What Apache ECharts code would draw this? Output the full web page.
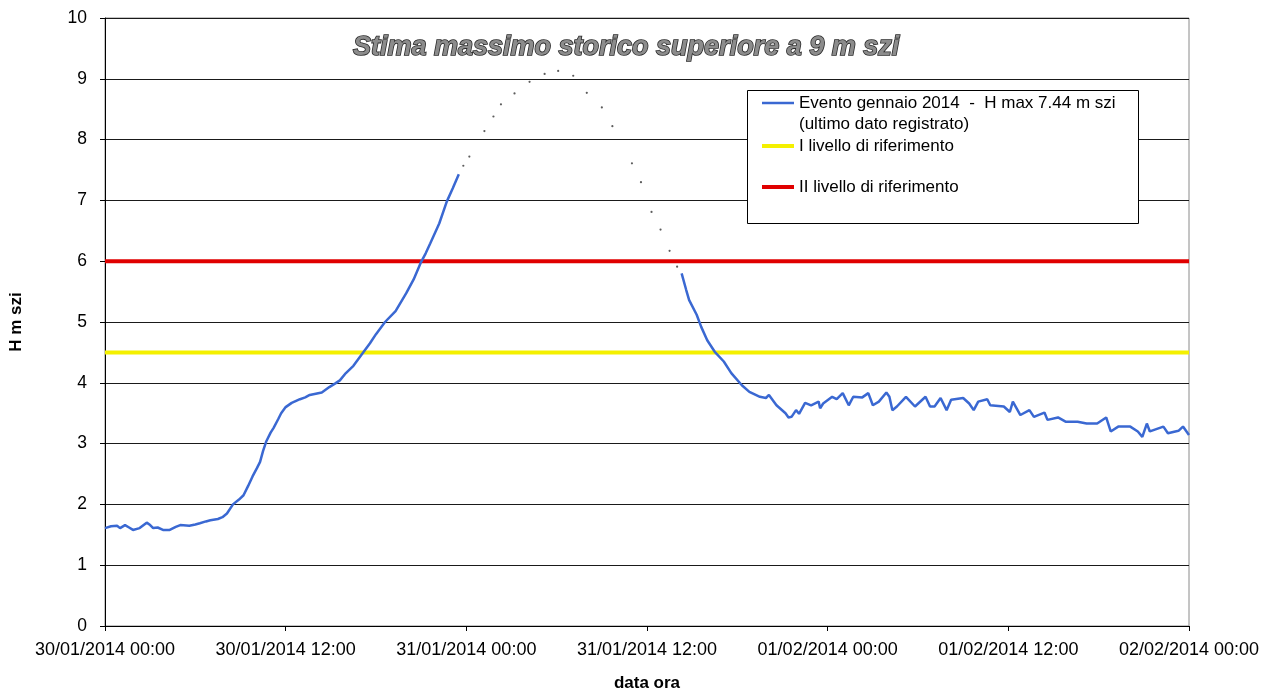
<!DOCTYPE html>
<html>
<head>
<meta charset="utf-8">
<script src="https://cdn.jsdelivr.net/npm/echarts@6/dist/echarts.min.js"></script>
<style>
html,body{margin:0;padding:0;background:#fff;}
#chart{width:1267px;height:691px;}
</style>
</head>
<body>
<div id="chart"></div>
<script>
// ---- data (hours since 30/01/2014 00:00, level in m szi) ----
const xTickLabels = ["30/01/2014 00:00","30/01/2014 12:00","31/01/2014 00:00","31/01/2014 12:00","01/02/2014 00:00","01/02/2014 12:00","02/02/2014 00:00"];
const yTickLabels = ["0","1","2","3","4","5","6","7","8","9","10"];

const seriesNames = [
  "Evento gennaio 2014  -  H max 7.44 m szi\n(ultimo dato registrato)",
  "I livello di riferimento",
  "II livello di riferimento"
];
const titleText = "Stima massimo storico superiore a 9 m szi";

// observed event (null = gap in record)
const eventHours = [
  0,0.4,0.8,1.0,1.33,1.6,1.86,2.3,2.77,3.0,3.2,3.5,3.85,4.3,4.7,5.0,5.6,6.0,6.3,6.7,7.0,7.5,7.8,8.1,8.5,8.9,9.2,9.5,9.8,10.1,10.3,10.5,10.7,11.0,11.2,11.5,11.7,12.0,12.4,12.95,13.3,13.6,14.0,14.4,14.9,15.3,15.6,16.0,16.5,17.0,17.6,18.0,18.6,19.3,20.0,20.5,21.0,21.3,21.6,22.2,22.7,23.1,23.5,
  30.0,
  38.3,38.6,38.8,39.3,39.6,40.0,40.5,41.1,41.6,42.3,42.8,43.5,43.9,44.1,44.6,45.2,45.4,45.6,45.9,46.1,46.5,46.9,47.4,47.5,47.7,48.3,48.6,49.0,49.4,49.7,50.3,50.7,51.0,51.4,51.9,52.1,52.3,52.6,53.2,53.8,54.5,54.8,55.1,55.5,55.9,56.2,57.0,57.4,57.7,58.0,58.6,58.8,59.7,60.1,60.3,60.8,61.4,61.7,62.4,62.6,63.3,63.8,64.6,65.2,65.9,66.5,66.8,67.3,68.1,68.6,68.9,69.2,69.4,70.3,70.6,71.3,71.6,72.0
];
const eventLevels = [
  1.61,1.64,1.65,1.61,1.66,1.62,1.58,1.61,1.70,1.66,1.61,1.62,1.58,1.58,1.63,1.66,1.65,1.67,1.69,1.72,1.74,1.76,1.79,1.85,2.00,2.08,2.15,2.30,2.46,2.60,2.70,2.88,3.03,3.18,3.26,3.40,3.50,3.60,3.67,3.73,3.76,3.80,3.82,3.84,3.93,3.99,4.04,4.16,4.28,4.45,4.65,4.80,5.00,5.18,5.47,5.70,5.99,6.13,6.29,6.62,6.98,7.20,7.43,
  null,
  5.80,5.53,5.36,5.12,4.92,4.70,4.51,4.35,4.16,3.96,3.85,3.77,3.75,3.80,3.63,3.50,3.43,3.44,3.55,3.49,3.67,3.63,3.69,3.58,3.66,3.77,3.73,3.83,3.63,3.77,3.76,3.83,3.63,3.69,3.84,3.77,3.55,3.61,3.77,3.61,3.77,3.61,3.61,3.75,3.55,3.72,3.75,3.66,3.55,3.69,3.73,3.63,3.61,3.52,3.69,3.47,3.55,3.44,3.51,3.39,3.43,3.36,3.36,3.33,3.33,3.43,3.20,3.28,3.28,3.20,3.11,3.33,3.20,3.28,3.17,3.21,3.28,3.14
];

// estimated peak (dotted)
const estimateHours  = [23.8,24.2,25.2,25.8,26.3,27.2,28.2,29.2,30.1,31.1,32.0,33.0,33.7,35.0,35.6,36.3,36.9,37.5,38.0];
const estimateLevels = [7.57,7.72,8.14,8.38,8.58,8.76,8.95,9.08,9.13,9.05,8.77,8.53,8.22,7.61,7.30,6.81,6.52,6.17,5.91];

// reference levels
const levelSpanHours = [0, 72];
const level1 = [4.5, 4.5];
const level2 = [6.0, 6.0];

const FONT = '"Liberation Sans", Arial, sans-serif';

function pairs(xs, ys){ return xs.map((x,i)=>[x, ys[i]]); }

const chart = echarts.init(document.getElementById('chart'), null, {renderer:'canvas'});
const legendCommon = {
  orient:'vertical', padding:0, icon:'rect', itemWidth:32,
  selectedMode:false,
  textStyle:{fontFamily:FONT, fontSize:17, color:'#000', lineHeight:21}
};
chart.setOption({
  animation:false,
  backgroundColor:'#fff',
  title:{
    text:titleText, left:348, top:29,
    textStyle:{fontFamily:FONT, fontSize:27, fontWeight:'bold', fontStyle:'italic',
      color:'#8c8c8c', textBorderColor:'#2a2a2a', textBorderWidth:1.6}
  },
  grid:{left:105, right:78, top:18, bottom:65, containLabel:false, outerBoundsMode:'none',
    show:true, borderColor:'#8a8a8a', borderWidth:1, backgroundColor:'transparent'},
  graphic:[{
    type:'rect', shape:{x:747.5, y:90.5, width:391, height:133},
    style:{fill:'#fff', stroke:'#000', lineWidth:1}, z:5
  }],
  legend:[
    Object.assign({}, legendCommon, {
      data:[seriesNames[0]], left:762, top:71.5, itemHeight:2.5, z:10,
      formatter:(name)=>'\n' + name
    }),
    Object.assign({}, legendCommon, {data:[seriesNames[1]], left:762, top:135.5, itemHeight:4, z:10}),
    Object.assign({}, legendCommon, {data:[seriesNames[2]], left:762, top:176.5, itemHeight:4, z:10})
  ],
  xAxis:{
    type:'value', min:0, max:72, interval:12,
    name:'data ora', nameLocation:'middle', nameGap:49,
    nameTextStyle:{fontFamily:FONT, fontSize:17, fontWeight:'bold', color:'#000'},
    axisLine:{show:true, onZero:false, lineStyle:{color:'#000', width:1}},
    axisTick:{show:true, length:5, lineStyle:{color:'#000'}},
    splitLine:{show:false},
    axisLabel:{fontFamily:FONT, fontSize:18, color:'#000', margin:15, showMinLabel:true, showMaxLabel:true,
      formatter:(v)=>xTickLabels[Math.round(v/12)] || ''}
  },
  yAxis:{
    type:'value', min:0, max:10, interval:1,
    name:'H m szi', nameLocation:'middle', nameGap:80, nameRotate:90,
    nameTextStyle:{fontFamily:FONT, fontSize:17, fontWeight:'bold', color:'#000'},
    axisLine:{show:true, lineStyle:{color:'#000', width:1}},
    axisTick:{show:true, length:5, lineStyle:{color:'#000'}},
    splitLine:{show:true, lineStyle:{color:'#1a1a1a', width:1}},
    axisLabel:{fontFamily:FONT, fontSize:17.5, color:'#000', margin:18,
      formatter:(v)=>yTickLabels[Math.round(v)]}
  },
  series:[
    {
      name:seriesNames[1], type:'line', data:pairs(levelSpanHours, level1),
      showSymbol:false, symbol:'none', color:'#f4f000',
      lineStyle:{color:'#f4f000', width:4}, z:3
    },
    {
      name:seriesNames[2], type:'line', data:pairs(levelSpanHours, level2),
      showSymbol:false, symbol:'none', color:'#e00000',
      lineStyle:{color:'#e00000', width:4}, z:3
    },
    {
      name:seriesNames[0], type:'line', data:pairs(eventHours, eventLevels),
      showSymbol:false, symbol:'none', connectNulls:false, color:'#3a68d2',
      lineStyle:{color:'#3a68d2', width:2.5}, z:4
    },
    {
      name:'stima', type:'scatter', data:pairs(estimateHours, estimateLevels),
      symbol:'circle', symbolSize:2.2, itemStyle:{color:'#333'}, z:4
    }
  ]
});
</script>
</body>
</html>
